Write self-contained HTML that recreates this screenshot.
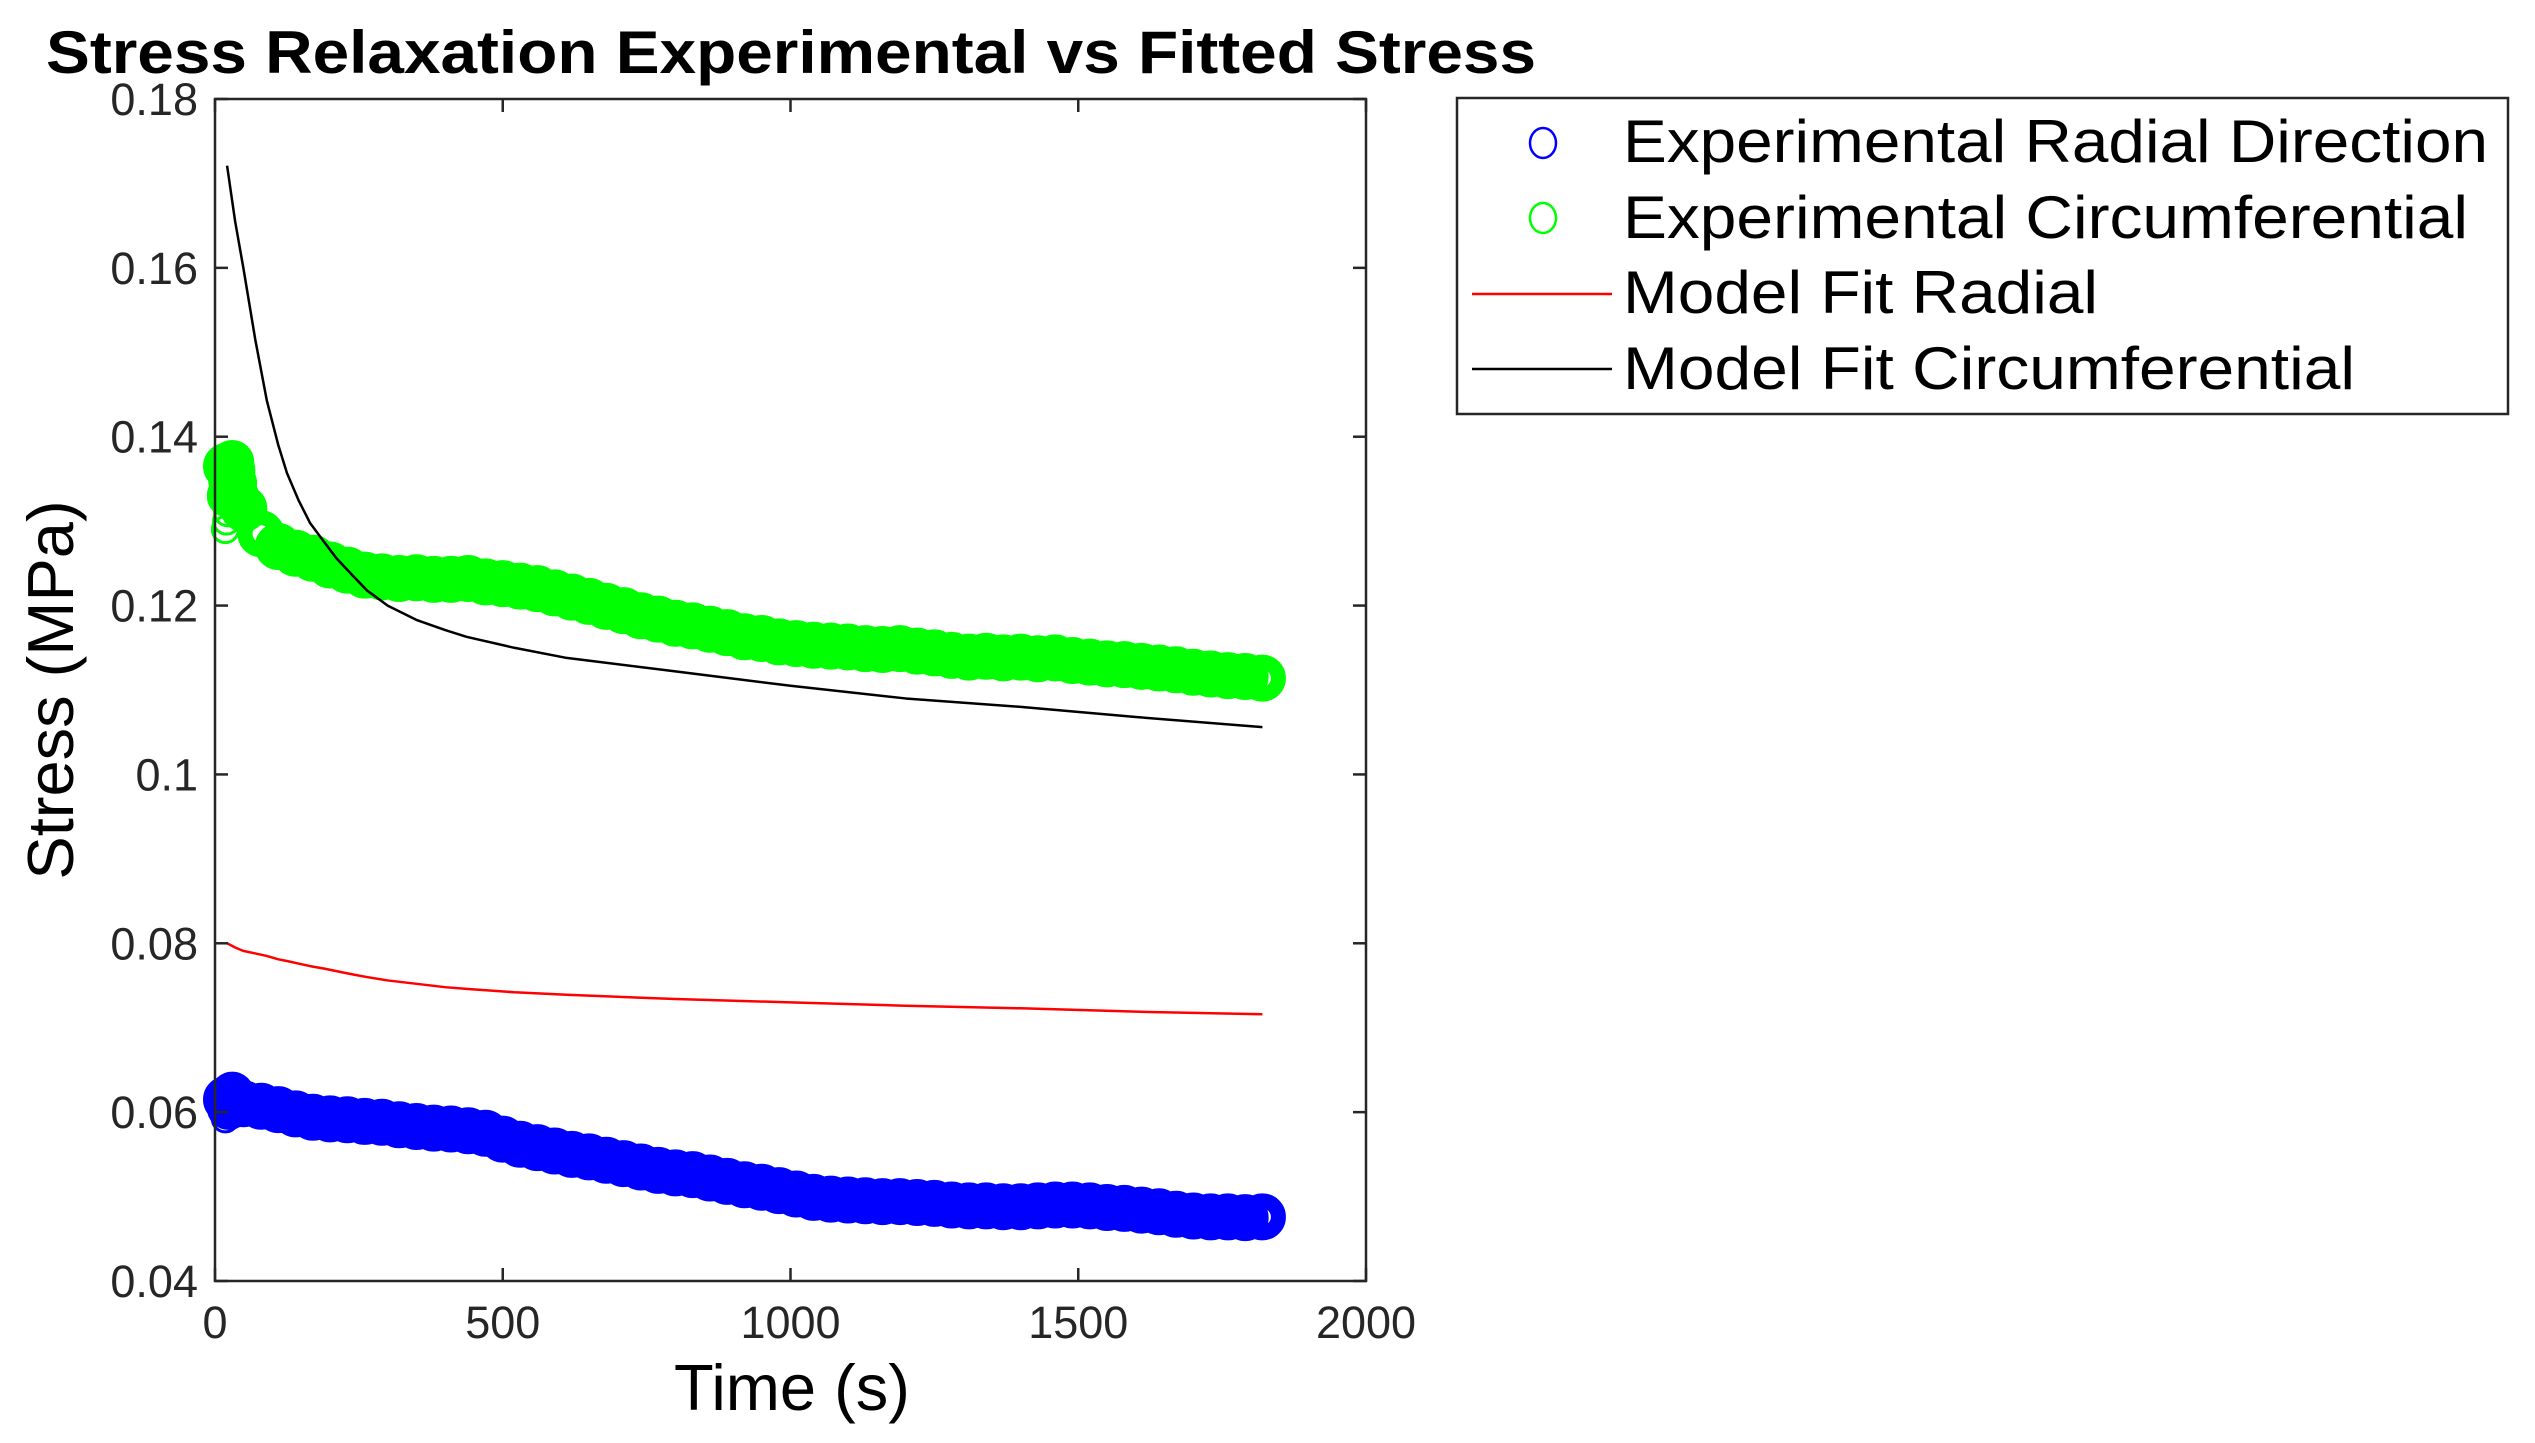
<!DOCTYPE html>
<html><head><meta charset="utf-8"><style>
html,body{margin:0;padding:0;background:#fff;}
svg{display:block;font-family:"Liberation Sans",Arial,sans-serif;}
</style></head><body>
<svg id="chart" width="2535" height="1443" viewBox="0 0 2535 1443" xmlns="http://www.w3.org/2000/svg">
<rect width="2535" height="1443" fill="#fff"/>
<text x="46" y="73" font-size="60" font-weight="bold" fill="#000" textLength="1490" lengthAdjust="spacingAndGlyphs">Stress Relaxation Experimental vs Fitted Stress</text>
<g id="plot"></g>
<g id="axes"></g>
<text x="792" y="1410" font-size="65" text-anchor="middle" fill="#000">Time (s)</text>
<text transform="translate(73,690) rotate(-90)" font-size="65" text-anchor="middle" fill="#000">Stress (MPa)</text>
<g>
<rect x="1457" y="98" width="1051" height="316" fill="#fff" stroke="#262626" stroke-width="2.5"/>
<g>
<ellipse cx="1543" cy="143" rx="13" ry="15" fill="none" stroke="#0000ff" stroke-width="2.5"/>
<text x="1623" y="162" font-size="60" fill="#000" textLength="865" lengthAdjust="spacingAndGlyphs">Experimental Radial Direction</text></g>
<g>
<ellipse cx="1543" cy="218" rx="13" ry="15" fill="none" stroke="#00ff00" stroke-width="2.5"/>
<text x="1623" y="238" font-size="60" fill="#000" textLength="845" lengthAdjust="spacingAndGlyphs">Experimental Circumferential</text></g>
<g>
<line x1="1472" y1="294" x2="1612" y2="294" stroke="#ff0000" stroke-width="2.5"/>
<text x="1623" y="313" font-size="60" fill="#000" textLength="475" lengthAdjust="spacingAndGlyphs">Model Fit Radial</text></g>
<g>
<line x1="1472" y1="369" x2="1612" y2="369" stroke="#000" stroke-width="2.5"/>
<text x="1623" y="389" font-size="60" fill="#000" textLength="732" lengthAdjust="spacingAndGlyphs">Model Fit Circumferential</text></g>
</g>
</svg>
<script>
const times = [20,50,80,110,140,170,200,230,260,290,320,350,380,410,440,470,500,530,560,590,620,650,680,710,740,770,800,830,860,890,920,950,980,1010,1040,1070,1100,1130,1160,1190,1220,1250,1280,1310,1340,1370,1400,1430,1460,1490,1520,1550,1580,1610,1640,1670,1700,1730,1760,1790,1820];
const circExp = [0.1365,0.1315,0.1285,0.127,0.1262,0.1256,0.1248,0.1242,0.1236,0.1234,0.1232,0.1233,0.1231,0.1231,0.1232,0.1228,0.1226,0.1223,0.1220,0.1215,0.121,0.1205,0.1199,0.1194,0.1188,0.1184,0.1179,0.1176,0.1172,0.1168,0.1163,0.1161,0.1157,0.1155,0.1153,0.1152,0.1151,0.1149,0.1148,0.1149,0.1146,0.1144,0.1141,0.1139,0.114,0.1138,0.1139,0.1137,0.1138,0.1135,0.1133,0.1131,0.113,0.1128,0.1126,0.1124,0.1121,0.1119,0.1117,0.1116,0.1114];
const radExp = [0.0615,0.061,0.0607,0.0603,0.0598,0.0594,0.0592,0.0591,0.0589,0.0588,0.0585,0.0583,0.0581,0.058,0.0578,0.0575,0.0568,0.0562,0.0558,0.0554,0.055,0.0547,0.0543,0.0539,0.0535,0.0531,0.0528,0.0526,0.0522,0.0518,0.0514,0.0511,0.0507,0.0503,0.0499,0.0497,0.0496,0.0495,0.0494,0.0494,0.0493,0.0492,0.049,0.0489,0.0489,0.0488,0.0488,0.0489,0.049,0.049,0.0489,0.0487,0.0486,0.0484,0.0482,0.0479,0.0477,0.0476,0.0476,0.0475,0.0476];
const earlyTimes = [24,26,28,30,32,35,38,42];
const circEarly = [0.1330,0.1350,0.1365,0.1370,0.1360,0.1345,0.1330,0.1320];
const radEarly = [0.0605,0.0612,0.0620,0.0622,0.0618,0.0615,0.0612,0.0610];
const thinTimes = [18,20,22];
const circThin = [0.1290,0.1300,0.1310];
const radThin = [0.0592,0.0598,0.0605];
const fitTimes = [21,35,49,70,90,110,125,145,165,190,211,240,264,300,350,400,437,520,611,800,1000,1200,1400,1600,1820];
const circFit = [0.1721,0.1655,0.1601,0.1515,0.1443,0.1390,0.1357,0.1325,0.1298,0.1275,0.1256,0.1235,0.1218,0.1200,0.1183,0.1171,0.1163,0.1150,0.1138,0.1122,0.1105,0.1090,0.1080,0.1068,0.1056];
const radFit = [0.0800,0.0795,0.0791,0.0788,0.0785,0.0781,0.0779,0.0776,0.0773,0.0770,0.0767,0.0763,0.0760,0.0756,0.0752,0.0748,0.0746,0.0742,0.0739,0.0734,0.0730,0.0726,0.0723,0.0719,0.0716];
const xTicks = [0,500,1000,1500,2000];
const yTicks = [0.04,0.06,0.08,0.1,0.12,0.14,0.16,0.18];
const yTickLabels = ["0.04","0.06","0.08","0.1","0.12","0.14","0.16","0.18"];

const L=215,R=1366,T=99,B=1281;
const NS="http://www.w3.org/2000/svg";
function sx(v){return L+(v-0)/(2000-0)*(R-L);}
function sy(v){return B-(v-0.04)/(0.18-0.04)*(B-T);}
function mk(tag,attrs,parent){const e=document.createElementNS(NS,tag);for(const k in attrs)e.setAttribute(k,attrs[k]);parent.appendChild(e);return e;}
const plot=document.getElementById('plot');
const axes=document.getElementById('axes');
mk('rect',{x:L,y:T,width:R-L,height:B-T,fill:'#fff'},plot);

function scatter(ts,vals,color,name,r,sw){
  const g=mk('g',{},plot);
  
  
  for(let i=0;i<ts.length;i++){
    const c=mk('circle',{cx:sx(ts[i]),cy:sy(vals[i]),r:r,fill:'none',stroke:color,'stroke-width':sw},g);
    
    
  }
}
scatter(thinTimes,circThin,'#00ff00','circumferential-experimental-thin',13,3);
scatter(earlyTimes,circEarly,'#00ff00','circumferential-experimental-early',15,14);
scatter(times,circExp,'#00ff00','circumferential-experimental-series',16,15);
scatter(thinTimes,radThin,'#0000ff','radial-experimental-thin',13,3);
scatter(earlyTimes,radEarly,'#0000ff','radial-experimental-early',15,14);
scatter(times,radExp,'#0000ff','radial-experimental-series',16,15);

function line(vals,color,name){
  const p=mk('polyline',{points:fitTimes.map((t,i)=>sx(t)+','+sy(vals[i])).join(' '),fill:'none',stroke:color,'stroke-width':2.5,'stroke-linejoin':'round'},plot);
  
  
}
line(radFit,'#ff0000','radial-fit-line');
line(circFit,'#000000','circumferential-fit-line');

mk('rect',{x:L,y:T,width:R-L,height:B-T,fill:'none',stroke:'#262626','stroke-width':2.5},axes);
xTicks.forEach(v=>{
  const x=sx(v);
  mk('line',{x1:x,y1:B,x2:x,y2:B-13,stroke:'#262626','stroke-width':2.5},axes);
  mk('line',{x1:x,y1:T,x2:x,y2:T+13,stroke:'#262626','stroke-width':2.5},axes);
  const t=mk('text',{x:x,y:B+57,'font-size':45,'text-anchor':'middle',fill:'#262626'},axes);
  t.textContent=String(v);
  
  
});
yTicks.forEach((v,i)=>{
  const y=sy(v);
  mk('line',{x1:L,y1:y,x2:L+13,y2:y,stroke:'#262626','stroke-width':2.5},axes);
  mk('line',{x1:R,y1:y,x2:R-13,y2:y,stroke:'#262626','stroke-width':2.5},axes);
  const t=mk('text',{x:L-17,y:y+16,'font-size':45,'text-anchor':'end',fill:'#262626'},axes);
  t.textContent=yTickLabels[i];
  
  
});
</script>
</body></html>
